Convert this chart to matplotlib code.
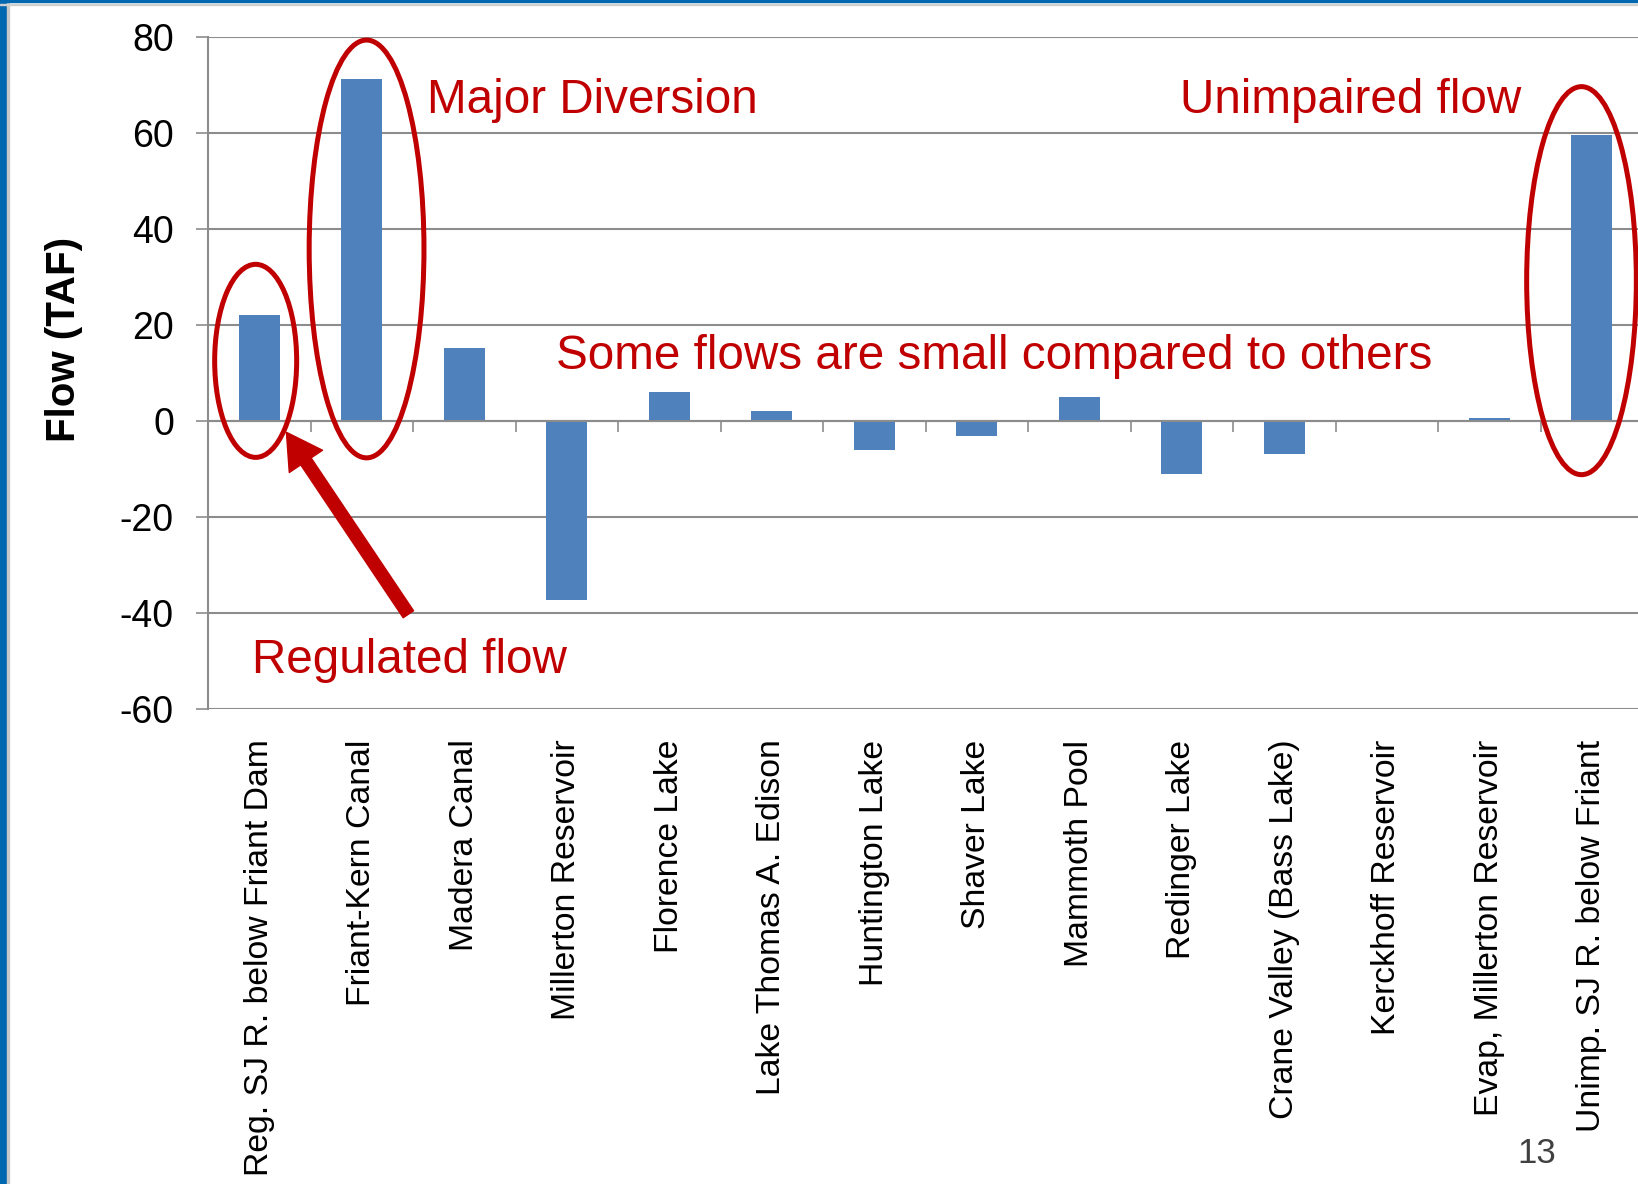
import matplotlib
matplotlib.use("Agg")
import matplotlib.pyplot as plt
from matplotlib.patches import Ellipse, Rectangle, FancyArrowPatch
import numpy as np

categories = ["Reg. SJ R. below Friant Dam", "Friant-Kern Canal", "Madera Canal",
              "Millerton Reservoir", "Florence Lake", "Lake Thomas A. Edison",
              "Huntington Lake", "Shaver Lake", "Mammoth Pool", "Redinger Lake",
              "Crane Valley (Bass Lake)", "Kerckhoff Reservoir",
              "Evap, Millerton Reservoir", "Unimp. SJ R. below Friant"]
flows = [22.0, 71.2, 15.2, -37.3, 6.1, 2.0, -6.0, -3.1, 4.9, -11.0, -7.0, 0.0, 0.7, 59.5]
yticks = [-60, -40, -20, 0, 20, 40, 60, 80]

plt.rcParams['font.family'] = ['Liberation Sans', 'DejaVu Sans']

W, H = 1638, 1184
fig = plt.figure(figsize=(W / 100, H / 100), dpi=100)
ax = fig.add_axes([208 / W, (H - 709) / H, 1435 / W, (709 - 36.7) / H])

grid_c = '#8c8c8c'
red = '#C00000'
x = np.arange(len(categories))
ax.bar(x, flows, width=0.4, color='#4F81BD', zorder=3)

ax.set_xlim(-0.5, len(categories) - 0.5)
ax.set_ylim(-60, 80)
ax.set_yticks(yticks)
ax.set_yticklabels([str(v) for v in yticks])
ax.yaxis.grid(True, color=grid_c, linewidth=1.5, zorder=0)
for sp in ['top', 'right']:
    ax.spines[sp].set_visible(False)
ax.spines['left'].set_color(grid_c)
ax.spines['left'].set_linewidth(1.5)
ax.spines['bottom'].set_position(('data', 0))
ax.spines['bottom'].set_color(grid_c)
ax.spines['bottom'].set_linewidth(1.5)
ax.spines['bottom'].set_zorder(4)
ax.tick_params(axis='y', direction='out', length=8.5, width=1.2, color=grid_c,
               labelsize=27, pad=16, labelcolor='#000000')
ax.set_xticks(x)
ax.set_xticklabels([''] * len(x))
ax.set_xticks(np.arange(len(categories) + 1) - 0.5, minor=True)
ax.tick_params(axis='x', which='major', length=0)
ax.tick_params(axis='x', which='minor', direction='out', length=8, width=1.2, color=grid_c)

sec = ax.secondary_xaxis('bottom')
sec.set_xticks(x)
sec.set_xticklabels(categories, rotation=90, fontsize=24.3)
sec.tick_params(length=0, pad=22)
sec.spines['bottom'].set_visible(False)

ax.set_ylabel('Flow (TAF)', fontsize=29, fontweight='bold')
ax.yaxis.set_label_coords(-0.087, 0.55)

# annotations
ax.add_patch(Ellipse((-0.035, 12.5), 0.80, 40.2, fill=False, edgecolor=red, linewidth=3.6,
                     zorder=5, clip_on=False))
ax.add_patch(Ellipse((1.047, 35.8), 1.12, 87.0, fill=False, edgecolor=red, linewidth=3.6,
                     zorder=5, clip_on=False))
ax.add_patch(Ellipse((12.9, 29.2), 1.07, 80.8, fill=False, edgecolor=red, linewidth=3.6,
                     zorder=5, clip_on=False))

tfs = 34.3
ax.text(1.64, 64.1, 'Major Diversion', color=red, fontsize=tfs, va='baseline', ha='left', zorder=6)
ax.text(12.31, 64.1, 'Unimpaired flow', color=red, fontsize=tfs, va='baseline', ha='right', zorder=6)
ax.text(2.895, 10.8, 'Some flows are small compared to others', color=red, fontsize=tfs,
        va='baseline', ha='left', zorder=6)
ax.text(-0.07, -52.5, 'Regulated flow', color=red, fontsize=tfs, va='baseline', ha='left', zorder=6)
ax.add_patch(FancyArrowPatch((1.47, -40.75), (0.25, -1.9),
                             arrowstyle='simple,head_length=1.4,head_width=1.6,tail_width=0.5',
                             mutation_scale=18, color=red, zorder=6, clip_on=False))

# slide decorations
fig.patches.append(Rectangle((0, 0), 7 / W, 1, transform=fig.transFigure, color='#0067B1', zorder=10))
fig.patches.append(Rectangle((7 / W, 0), 1.5 / W, 1, transform=fig.transFigure, color='#c8c8c8', zorder=10))
fig.patches.append(Rectangle((0, 1 - 2 / H), 1, 2 / H, transform=fig.transFigure, color='#0067B1', zorder=10))
fig.patches.append(Rectangle((0, 1 - 5 / H), 1, 1.2 / H, transform=fig.transFigure, color='#d0d0d0', zorder=10))
fig.text(1537 / W, 1 - 1163 / H, '13', fontsize=25, color='#404040', ha='center', va='baseline')

fig.savefig('out.png', dpi=100)
